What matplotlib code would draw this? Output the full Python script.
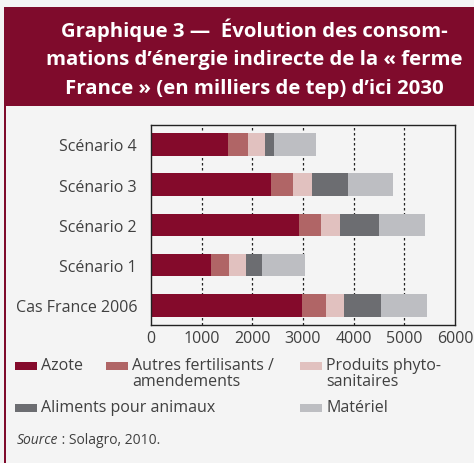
import matplotlib
matplotlib.use("Agg")
import matplotlib.pyplot as plt
from matplotlib.patches import Rectangle
import numpy as np

plt.rcParams['font.family'] = ['Open Sans', 'DejaVu Sans']

# milliers de tep, par poste
categories = ["Cas France 2006", "Scénario 1", "Scénario 2", "Scénario 3", "Scénario 4"]
azote = [2984, 1182, 2925, 2370, 1510]
autres_fertilisants = [475, 357, 435, 436, 405]
phyto = [357, 336, 377, 376, 337]
aliments = [733, 317, 772, 713, 178]
materiel = [891, 851, 891, 891, 825]

series = [azote, autres_fertilisants, phyto, aliments, materiel]
series_names = ["Azote", "Autres fertilisants /\namendements", "Produits phyto-\nsanitaires",
                "Aliments pour animaux", "Matériel"]
colors = ["#840a2b", "#b06566", "#e1c1bf", "#6c6d71", "#bdbec2"]
xticks = [0, 1000, 2000, 3000, 4000, 5000, 6000]

W, H = 474, 464
fig = plt.figure(figsize=(W / 100, H / 100), dpi=100)
fig.patch.set_facecolor("#f4f4f4")


def fx(px):
    return px / W


def fy(py):
    return 1 - py / H


# title banner and left rule
fig.patches.append(Rectangle((fx(4), fy(107)), fx(470), (99) / H, transform=fig.transFigure,
                             facecolor="#7f0b2c", edgecolor="none"))
fig.patches.append(Rectangle((fx(4), 0), fx(2), fy(107), transform=fig.transFigure,
                             facecolor="#7f0b2c", edgecolor="none"))
title_lines = ["Graphique 3 —  Évolution des consom-",
               "mations d’énergie indirecte de la « ferme",
               "France » (en milliers de tep) d’ici 2030"]
for i, line in enumerate(title_lines):
    fig.text(fx(254), fy(30 + i * 29.5), line, color="white", fontsize=14.7,
             fontweight="bold", ha="center", va="center")

ax = fig.add_axes([fx(151), fy(325.7), fx(304), (325.7 - 126) / H])
ax.set_facecolor("#f4f4f4")

y = np.arange(len(categories))
left = np.zeros(len(categories))
for vals, c in zip(series, colors):
    ax.barh(y, vals, left=left, height=0.56, color=c, edgecolor="none", zorder=2)
    left += np.array(vals)

ax.set_xlim(0, 6000)
ax.set_ylim(-0.48, 4.48)
ax.set_xticks(xticks)
ax.set_yticks(y)
ax.set_yticklabels(categories)
ax.tick_params(length=0, labelsize=11.5, colors="#404040")
ax.tick_params(axis="x", pad=4)
ax.tick_params(axis="y", pad=10)
for v in xticks[1:-1]:
    ax.axvline(v, color="#222222", lw=0.9, ls=(0, (2, 2)), zorder=1)
for s in ax.spines.values():
    s.set_color("#222222")
    s.set_linewidth(1)

# legend laid out in three columns
legend_pos = [(15, 367), (106, 367), (300, 367), (15, 409), (300, 409)]
for (px, py), name, c in zip(legend_pos, series_names, colors):
    fig.patches.append(Rectangle((fx(px), fy(py + 4)), fx(22), 8 / H,
                                 transform=fig.transFigure, facecolor=c, edgecolor="none"))
    fig.text(fx(px + 26), fy(py - 9), name, fontsize=11.5, color="#404040",
             ha="left", va="top", linespacing=1.0)

src = fig.text(fx(17), fy(441), "Source", fontsize=10, style="italic", color="#404040",
               ha="left", va="center")
fig.canvas.draw()
bb = src.get_window_extent()
fig.text(bb.x1 / W, fy(441), " : Solagro, 2010.", fontsize=10, color="#404040",
         ha="left", va="center")

fig.savefig("out.png", dpi=100, facecolor=fig.get_facecolor())
